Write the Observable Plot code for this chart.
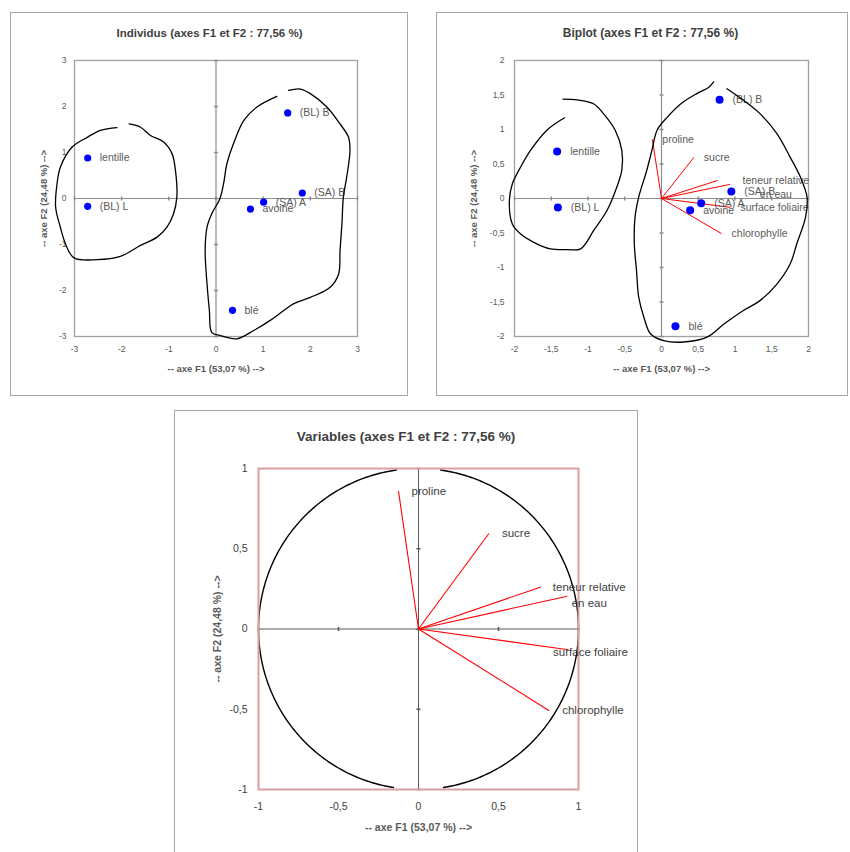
<!DOCTYPE html>
<html><head><meta charset="utf-8">
<script src="https://cdn.jsdelivr.net/npm/d3@7"></script>
<script src="https://cdn.jsdelivr.net/npm/@observablehq/plot@0.6"></script>
<style>
body{margin:0;background:#fff;}
#root{position:relative;width:850px;height:852px;overflow:hidden;font-family:"Liberation Sans",Arial,sans-serif;}
.panel{position:absolute;overflow:visible;}
.panel svg{position:absolute;left:0;top:0;overflow:visible;}
.border{position:absolute;inset:0;border:1.5px solid #a6a6a6;pointer-events:none;box-sizing:border-box;}
</style></head><body><div id="root"></div>
<script>
// ---------- data ----------
const indNames = ["lentille", "(BL) L", "(BL) B", "(SA) B", "(SA) A", "avoine", "blé"];
const indF1 = [-2.72, -2.72, 1.52, 1.83, 1.01, 0.73, 0.35];
const indF2 = [0.88, -0.17, 1.86, 0.12, -0.08, -0.23, -2.43];
const biF1 = [-1.42, -1.41, 0.79, 0.95, 0.54, 0.39, 0.19];
const biF2 = [0.68, -0.13, 1.43, 0.10, -0.07, -0.17, -1.85];
const varNames = ["proline", "sucre", "", "teneur relative\nen eau", "surface foliaire", "chlorophylle"];
const varF1 = [-0.125, 0.44, 0.765, 0.93, 0.9375, 0.817];
const varF2 = [0.859, 0.595, 0.262, 0.204, -0.129, -0.509];
const ticksInd = [-3, -2, -1, 0, 1, 2, 3];
const ticksBi = [-2, -1.5, -1, -0.5, 0, 0.5, 1, 1.5, 2];
const ticksVar = [-1, -0.5, 0, 0.5, 1];
const titleInd = "Individus (axes F1 et F2 : 77,56 %)";
const titleBi = "Biplot (axes F1 et F2 : 77,56 %)";
const titleVar = "Variables (axes F1 et F2 : 77,56 %)";
const labelF1 = "-- axe F1 (53,07 %) -->";
const labelF2 = "-- axe F2 (24,48 %) -->";
// hand-drawn group outlines (data coordinates)
const outlineIndLeft = [[-1.84,1.62],[-1.60,1.55],[-1.39,1.37],[-1.11,1.23],[-0.93,0.97],[-0.86,0.61],[-0.83,0.03],[-0.90,-0.33],[-1.04,-0.62],[-1.25,-0.84],[-1.60,-1.02],[-2.03,-1.26],[-2.52,-1.33],[-3.01,-1.29],[-3.19,-0.99],[-3.30,-0.62],[-3.40,-0.19],[-3.37,0.32],[-3.30,0.68],[-3.05,1.12],[-2.73,1.33],[-2.45,1.48],[-2.10,1.54]];
const outlineIndRight = [[1.54,2.35],[1.79,2.38],[2.00,2.28],[2.35,1.99],[2.63,1.62],[2.81,1.33],[2.84,1.04],[2.77,0.46],[2.70,0.03],[2.67,-0.55],[2.63,-1.13],[2.60,-1.64],[2.42,-1.93],[2.00,-2.15],[1.64,-2.29],[1.43,-2.44],[1.15,-2.65],[0.80,-2.87],[0.44,-3.05],[0.09,-2.98],[-0.09,-2.91],[-0.14,-2.44],[-0.19,-1.86],[-0.23,-1.13],[-0.19,-0.62],[-0.09,-0.33],[0.08,-0.01],[0.16,0.32],[0.23,0.75],[0.37,1.19],[0.59,1.70],[0.87,1.99],[1.29,2.22]];
const outlineBiLeft = [[-1.32,1.17],[-1.56,0.99],[-1.78,0.70],[-1.92,0.45],[-2.03,0.21],[-2.07,-0.03],[-2.03,-0.37],[-1.92,-0.51],[-1.69,-0.66],[-1.51,-0.73],[-1.28,-0.74],[-1.10,-0.73],[-0.92,-0.46],[-0.74,-0.17],[-0.61,0.16],[-0.54,0.41],[-0.54,0.70],[-0.63,0.99],[-0.79,1.23],[-0.92,1.37],[-1.15,1.43],[-1.34,1.44]];
const outlineBiRight = [[0.89,1.59],[1.12,1.42],[1.34,1.23],[1.57,0.94],[1.75,0.60],[1.89,0.31],[1.98,0.02],[1.96,-0.27],[1.84,-0.66],[1.75,-0.95],[1.57,-1.24],[1.34,-1.48],[1.12,-1.62],[0.85,-1.82],[0.62,-2.01],[0.30,-2.08],[0.03,-2.06],[-0.15,-1.96],[-0.24,-1.72],[-0.31,-1.43],[-0.34,-1.04],[-0.37,-0.66],[-0.36,-0.27],[-0.31,0.02],[-0.20,0.41],[-0.13,0.70],[-0.06,0.99],[0.08,1.18],[0.26,1.37],[0.48,1.52],[0.64,1.61],[0.71,1.69]];

// ---------- helpers ----------
const FONT = '"Liberation Sans", Arial, sans-serif';
const fmt = d => String(d).replace(".", ",");
const tickV = {draw(ctx, size) { const r = Math.sqrt(size / Math.PI); ctx.moveTo(0, -r); ctx.lineTo(0, r); }};
const tickH = {draw(ctx, size) { const r = Math.sqrt(size / Math.PI); ctx.moveTo(-r, 0); ctx.lineTo(r, 0); }};
const ind = d3.range(indNames.length);
const vidx = d3.range(varNames.length);

function panel(left, top, width, height, node) {
  const div = document.createElement("div");
  div.className = "panel";
  Object.assign(div.style, {left: left + "px", top: top + "px", width: width + "px", height: height + "px"});
  div.appendChild(node);
  const b = document.createElement("div");
  b.className = "border";
  div.appendChild(b);
  document.getElementById("root").appendChild(div);
}

function titles(title, tdx, tdy, tsize, xdy, ydx, asize) {
  return [
    Plot.text([title], {text: d => d, frameAnchor: "top", dx: tdx, dy: tdy, lineAnchor: "middle", textAnchor: "middle", fontWeight: "bold", fontSize: tsize, fill: "#404040"}),
    Plot.text([labelF1], {text: d => d, frameAnchor: "bottom", dy: xdy, lineAnchor: "middle", textAnchor: "middle", fontWeight: "bold", fontSize: asize, fill: "#595959"}),
    Plot.text([labelF2], {text: d => d, frameAnchor: "left", dx: ydx, rotate: -90, lineAnchor: "middle", textAnchor: "middle", fontWeight: "bold", fontSize: asize, fill: "#595959"})
  ];
}

function outline(pts) {
  return Plot.line(pts, {x: d => d[0], y: d => d[1], curve: "catmull-rom", stroke: "#000", strokeWidth: 1.3});
}

// ---------- Panel 1 : Individus ----------
const p1 = Plot.plot({
  width: 398, height: 384,
  marginLeft: 64, marginRight: 51, marginTop: 48, marginBottom: 60,
  x: {domain: [-3, 3], ticks: ticksInd, tickSize: 0, tickPadding: 9, tickFormat: fmt, label: null},
  y: {domain: [-3, 3], ticks: ticksInd, tickSize: 0, tickPadding: 8, tickFormat: fmt, label: null},
  style: {fontSize: "8.5px", color: "#595959", fontFamily: FONT, background: "transparent", overflow: "visible"},
  marks: [
    Plot.frame({stroke: "#a0a0a0", strokeWidth: 1.3}),
    Plot.ruleX([0], {stroke: "#8c8c8c", strokeWidth: 1.2}),
    Plot.ruleY([0], {stroke: "#8c8c8c", strokeWidth: 1.2}),
    Plot.dot(ticksInd, {x: d => d, y: 0, symbol: tickV, r: 2, stroke: "#8c8c8c"}),
    Plot.dot(ticksInd, {x: 0, y: d => d, symbol: tickH, r: 2, stroke: "#8c8c8c"}),
    Plot.dot(ind, {x: i => indF1[i], y: i => indF2[i], r: 3.6, fill: "#0000ff"}),
    Plot.text(ind, {x: i => indF1[i], y: i => indF2[i], text: i => indNames[i], dx: 12, textAnchor: "start", fontSize: 10.5, fill: "#595959"}),
    outline(outlineIndLeft),
    outline(outlineIndRight),
    ...titles(titleInd, -6.5, -27, 11.5, 32, -31, 9.5)
  ]
});
panel(10, 12, 398, 384, p1);

// ---------- Panel 2 : Biplot ----------
const p2 = Plot.plot({
  width: 412, height: 384,
  marginLeft: 78, marginRight: 40, marginTop: 48, marginBottom: 60,
  x: {domain: [-2, 2], ticks: ticksBi, tickSize: 0, tickPadding: 9, tickFormat: fmt, label: null},
  y: {domain: [-2, 2], ticks: ticksBi, tickSize: 0, tickPadding: 10, tickFormat: fmt, label: null},
  style: {fontSize: "8.5px", color: "#595959", fontFamily: FONT, background: "transparent", overflow: "visible"},
  marks: [
    Plot.frame({stroke: "#a0a0a0", strokeWidth: 1.3}),
    Plot.ruleX([0], {stroke: "#8c8c8c", strokeWidth: 1.2}),
    Plot.ruleY([0], {stroke: "#8c8c8c", strokeWidth: 1.2}),
    Plot.dot(ticksBi, {x: d => d, y: 0, symbol: tickV, r: 2, stroke: "#8c8c8c"}),
    Plot.dot(ticksBi, {x: 0, y: d => d, symbol: tickH, r: 2, stroke: "#8c8c8c"}),
    Plot.link(vidx, {x1: 0, y1: 0, x2: i => varF1[i], y2: i => varF2[i], stroke: "#ff0000", strokeWidth: 1}),
    Plot.text(vidx.filter(i => i !== 3), {x: i => varF1[i], y: i => varF2[i], text: i => varNames[i], dx: 10, textAnchor: "start", fontSize: 10.5, fill: "#595959"}),
    Plot.text([3], {x: i => varF1[i], y: i => varF2[i], text: i => varNames[i], dx: 46, dy: 2, textAnchor: "middle", lineHeight: 1.35, fontSize: 10.5, fill: "#595959"}),
    Plot.dot(ind, {x: i => biF1[i], y: i => biF2[i], r: 4, fill: "#0000ff"}),
    Plot.text(ind, {x: i => biF1[i], y: i => biF2[i], text: i => indNames[i], dx: 13, textAnchor: "start", fontSize: 10.5, fill: "#595959"}),
    outline(outlineBiLeft),
    outline(outlineBiRight),
    ...titles(titleBi, -11, -27, 12, 32, -41, 9.5)
  ]
});
panel(436, 12, 412, 384, p2);

// ---------- Panel 3 : Variables ----------
const gaps = [[82, 98], [261, 279]];
const circle = d3.range(0, 360, 1).filter(a => !gaps.some(([g0, g1]) => a > g0 && a < g1))
  .map(a => ({a, x: Math.cos(a * Math.PI / 180), y: Math.sin(a * Math.PI / 180), seg: (a >= 98 && a <= 261) ? 0 : 1}))
  .sort((p, q) => ((p.a + 360 - 279) % 360) - ((q.a + 360 - 279) % 360));
const p3 = Plot.plot({
  width: 464, height: 442,
  marginLeft: 84, marginRight: 60, marginTop: 58, marginBottom: 63,
  x: {domain: [-1, 1], ticks: ticksVar, tickSize: 0, tickPadding: 13, tickFormat: fmt, label: null},
  y: {domain: [-1, 1], ticks: ticksVar, tickSize: 0, tickPadding: 11, tickFormat: fmt, label: null},
  style: {fontSize: "10.5px", color: "#404040", fontFamily: FONT, background: "transparent", overflow: "visible"},
  marks: [
    Plot.ruleX([0], {stroke: "#595959", strokeWidth: 1}),
    Plot.ruleY([0], {stroke: "#595959", strokeWidth: 1}),
    Plot.dot(ticksVar, {x: d => d, y: 0, symbol: tickV, r: 2, stroke: "#595959"}),
    Plot.dot(ticksVar, {x: 0, y: d => d, symbol: tickH, r: 2, stroke: "#595959"}),
    Plot.line(circle, {x: "x", y: "y", z: "seg", stroke: "#000", strokeWidth: 1.4}),
    Plot.frame({stroke: "#d9a0a0", strokeWidth: 2}),
    Plot.link(vidx, {x1: 0, y1: 0, x2: i => varF1[i], y2: i => varF2[i], stroke: "#ff0000", strokeWidth: 1.1}),
    Plot.text([0, 1, 5], {x: i => varF1[i], y: i => varF2[i], text: i => varNames[i], dx: 13, textAnchor: "start", fontSize: 11.5, fill: "#404040"}),
    Plot.text([3], {x: i => varF1[i], y: i => varF2[i], text: i => varNames[i], dx: 22, dy: -2, textAnchor: "middle", lineHeight: 1.4, fontSize: 11.5, fill: "#404040"}),
    Plot.text([4], {x: i => varF1[i], y: i => varF2[i], text: i => varNames[i], dx: 22, dy: 3, textAnchor: "middle", fontSize: 11.5, fill: "#404040"}),
    ...titles(titleVar, -12.5, -32, 13.5, 38, -41, 10.5)
  ]
});
panel(174, 410, 464, 446, p3);
</script></body></html>
